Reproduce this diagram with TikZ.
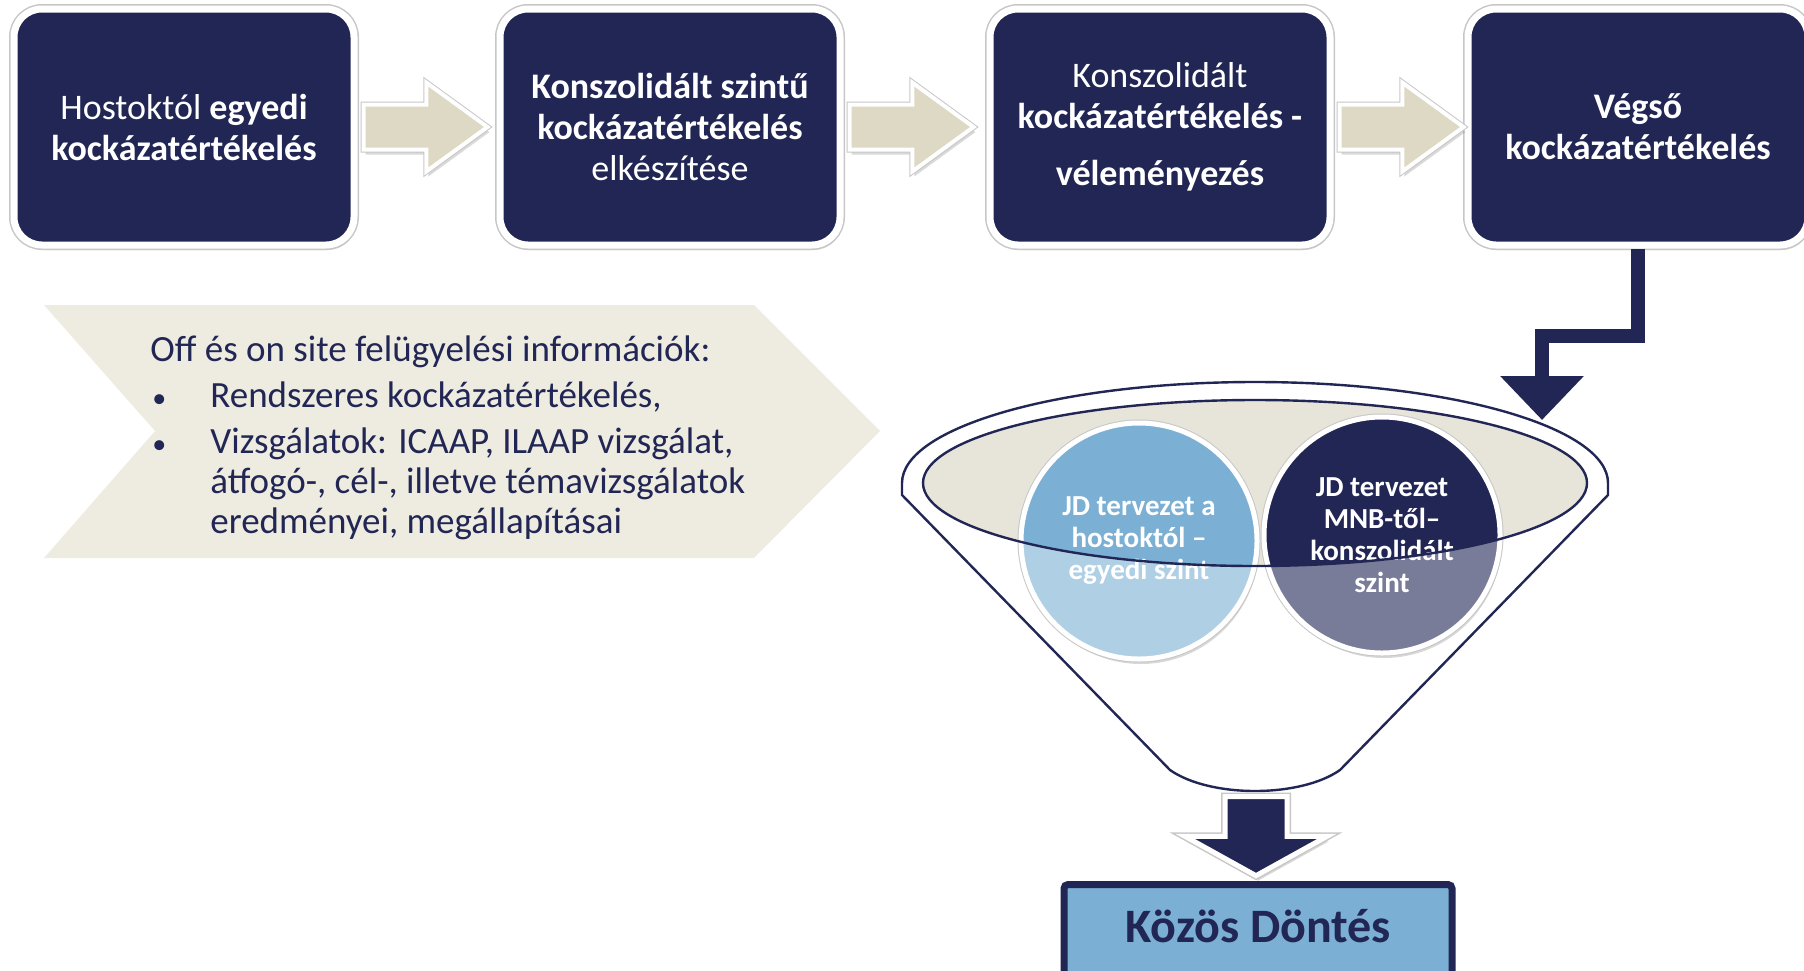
\documentclass[tikz,border=0pt]{standalone}
\usepackage{fontspec}
\setmainfont{Carlito}
\usetikzlibrary{shapes.arrows,shadows,arrows.meta,calc}
\definecolor{navy}{RGB}{33,38,84}
\definecolor{lblue}{RGB}{123,175,212}
\definecolor{tan}{RGB}{221,217,196}
\definecolor{cream}{RGB}{238,236,225}
\definecolor{rimfill}{RGB}{231,228,217}
\newcommand\infobullet{\makebox[30pt][l]{\hspace{1pt}{\fontsize{14}{14}\selectfont\textbullet}}}
\begin{document}
\begin{tikzpicture}[x=0.5pt,y=-0.5pt,
	softshadow/.style={drop shadow={opacity=.3,shadow xshift=1pt,shadow yshift=-2.5pt}},
	halo/.style={preaction={draw=black!22,line width=#1}},
	stepbox/.style={rectangle,rounded corners=14pt,draw=white,line width=3.5pt,fill=navy,
		text=white,align=center,minimum width=170pt,minimum height=118pt,
		font=\fontsize{18}{20.5}\selectfont,softshadow,halo=5pt},
	flowarrow/.style={single arrow,fill=tan,draw=white,line width=2pt,inner sep=10.25pt,anchor=tail,
		single arrow head extend=11pt,single arrow tip angle=72,minimum height=62pt,softshadow,halo=3pt},
	jdcircle/.style={circle,draw=white,line width=2.5pt,minimum size=118pt,inner sep=0pt,
		text=white,align=center,font=\bfseries\fontsize{14.5}{16}\selectfont,softshadow,halo=3.5pt},
	infotext/.style={text=navy,align=left,inner sep=0pt,font=\fontsize{18.5}{20}\selectfont}]
	\useasboundingbox (0,0) rectangle (1804,970);

	% supervisory information chevron
	\fill[cream] (44,305) -- (754,305) -- (880,431) -- (754,558) -- (44,558) -- (155,431) -- cycle;
	\node[infotext,anchor=north west] (info) at (150,335) {Off és on site felügyelési információk:\\[3pt]
		\infobullet Rendszeres kockázatértékelés,\\[3pt]
		\infobullet Vizsgálatok: ICAAP, ILAAP vizsgálat,\\
		\hspace*{30pt}átfogó-, cél-, illetve témavizsgálatok\\
		\hspace*{30pt}eredményei, megállapításai};

	% process steps
	\node[stepbox] (b1) at (184,127) {Hostoktól \textbf{egyedi}\\\textbf{kockázatértékelés}};
	\node[stepbox] (b2) at (670,127) {\textbf{Konszolidált szintű}\\\textbf{kockázatértékelés}\\elkészítése};
	\node[stepbox] (b3) at (1160,127) {Konszolidált\\\textbf{kockázatértékelés -}\\[8pt]\textbf{véleményezés}};
	\node[stepbox] (b4) at (1638,127) {\textbf{Végső}\\\textbf{kockázatértékelés}};

	\node[flowarrow] (a12) at ([xshift=2pt]b1.east) {};
	\node[flowarrow] (a23) at ([xshift=2pt]b2.east) {};
	\node[flowarrow] (a34) at ([xshift=2pt]b3.east) {};

	% funnel
	\draw[navy,line width=1.2pt,fill=white] (902,483) arc[start angle=180,end angle=360,x radius=353,y radius=101]
		-- (1608,495) -- (1340,770) .. controls (1300,798) and (1210,798) .. (1170,770) -- (902,495) -- cycle;
	\fill[rimfill] (1255,483) ellipse[x radius=332,y radius=83];
	\node[jdcircle,fill=lblue] (jd1) at (1139,541) {JD tervezet a\\hostoktól –\\egyedi szint};
	\node[jdcircle,fill=navy] (jd2) at (1382,535) {JD tervezet\\MNB-től–\\konszolidált\\szint};
	\begin{scope}[even odd rule]
		\clip (880,300) rectangle (1640,800) (1255,483) ellipse[x radius=332,y radius=83];
		\fill[white,opacity=.4] (jd1.center) circle[radius=116] (jd2.center) circle[radius=116];
	\end{scope}
	\draw[navy,line width=1.2pt] (1255,483) ellipse[x radius=332,y radius=83];

	% final step into the funnel
	\coordinate (rim) at (1542,420);
	\draw[navy,line width=7pt,-{Triangle[width=40.5pt,length=22pt]}] (b4.south) -- ++(0,87) -| (rim);

	% joint decision
	\coordinate (fbot) at (1256,794);
	\node[rectangle,rounded corners=2pt,draw=navy,line width=3.5pt,fill=lblue,text=navy,
		font=\bfseries\fontsize{24}{28}\selectfont,minimum width=194pt,minimum height=50pt,
		text height=16pt,text depth=8pt,anchor=north,softshadow] (dontes) at (1258,881) {Közös Döntés};
	\node[single arrow,fill=navy,draw=white,line width=2.5pt,inner sep=14.25pt,rotate=-90,anchor=tail,
		single arrow head extend=20pt,single arrow tip angle=122,minimum height=38pt,softshadow,halo=4pt]
		(down) at (fbot) {};
\end{tikzpicture}
\end{document}
